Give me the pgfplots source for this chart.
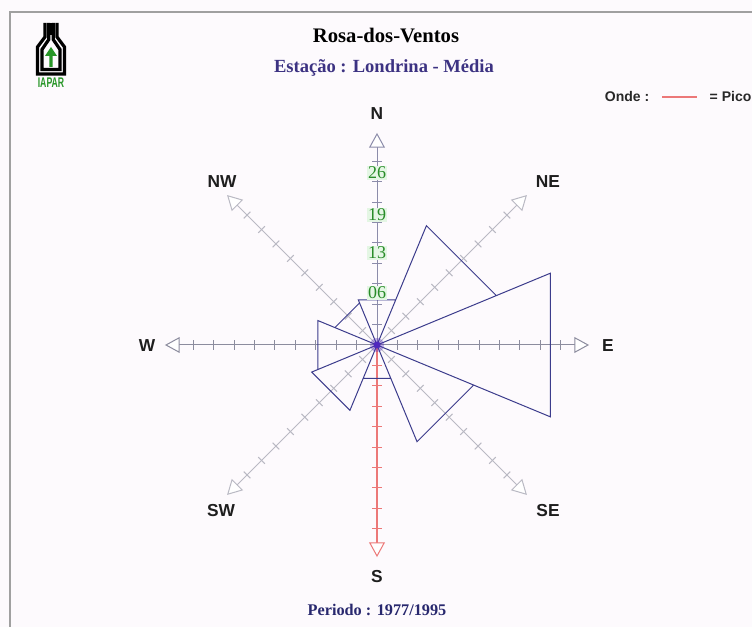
\documentclass[border=0pt]{standalone}
\usepackage{pgfplots}
\pgfplotsset{compat=1.18}
\usepackage{pgfplotstable}
\usepackage{fontspec}
\setmainfont{Liberation Serif}
\setsansfont{Liberation Sans}

\definecolor{bg}{RGB}{253,250,253}
\definecolor{wedge}{RGB}{60,60,140}
\definecolor{diag}{RGB}{185,185,195}
\definecolor{ewc}{RGB}{140,140,158}
\definecolor{nc}{RGB}{140,140,170}
\definecolor{sc}{RGB}{236,120,120}
\definecolor{grn}{RGB}{40,140,40}
\definecolor{grnbg}{RGB}{228,246,228}
\definecolor{navy}{RGB}{40,40,110}
\definecolor{sub}{RGB}{60,50,130}
\definecolor{framec}{RGB}{160,160,160}
\definecolor{dotc}{RGB}{80,40,190}
\definecolor{logog}{RGB}{40,150,40}

% wedge vertices: angle (deg), frequency (%) ; value 0 = centre
\pgfplotstableread{
a r
0 0
67.5 7.2
112.5 7.2
0 0
22.5 19.0
67.5 19.0
0 0
-22.5 27.6
22.5 27.6
0 0
-67.5 15.4
-22.5 15.4
0 0
-112.5 5.3
-67.5 5.3
0 0
-157.5 10.4
-112.5 10.4
0 0
157.5 9.4
202.5 9.4
0 0
112.5 6.7
157.5 6.7
0 0
}\rose

\begin{document}
\begin{tikzpicture}
\fill[bg] (0,0) rectangle (564pt,470.25pt);
\useasboundingbox (0,0) rectangle (564pt,470.25pt);

% direction axes
\begin{scope}[shift={(282.75pt,211.5pt)}, x=4.71pt, y=4.71pt]
\foreach \ang/\col/\lw in {45/diag/0.75pt,135/diag/0.75pt,-45/diag/0.75pt,-135/diag/0.75pt,0/ewc/0.75pt,180/ewc/0.75pt,90/nc/0.75pt,-90/sc/1.2pt}{
  \begin{scope}[rotate=\ang]
    \draw[\col, line width=\lw] (0,0) -- (31.5,0);
    \foreach \k in {1,...,9}{
      \draw[\col, line width=0.8pt] (\k*3.25,-0.75) -- (\k*3.25,0.75);
    }
    \draw[\col, line width=0.75pt, fill=white] (33.6,0) -- (31.5,1.15) -- (31.5,-1.15) -- cycle;
  \end{scope}
}
\end{scope}

\begin{axis}[name=ax, at={(0,0)}, anchor=south west,
  x=4.71pt, y=4.71pt,
  xmin=-60.03, xmax=59.71, ymin=-44.90, ymax=54.94,
  hide axis, clip=false]
\addplot[wedge, line width=0.75pt, no marks] table[
  x expr={\thisrow{r}/cos(22.5)*cos(\thisrow{a})},
  y expr={\thisrow{r}/cos(22.5)*sin(\thisrow{a})}] {\rose};
\end{axis}

% texts and decorations in reference pixel coordinates
\begin{scope}[shift={(0,470.25pt)}, x=0.75pt, y=-0.75pt]
  % frame
  \draw[framec, line width=1.1pt] (10,627) -- (10,12) -- (752,12);
  % centre
  \fill[dotc, opacity=0.35] (377,345) circle (7);
  \fill[dotc] (377,345) circle (3.5);
  % radial labels
  \foreach \yy/\tt in {293/06,253/13,215/19,173/26}{
    \node[text=grn, fill=grnbg, inner sep=0.4pt, font=\fontsize{13.5}{14}\selectfont] at (377,\yy) {\tt};
  }
  % titles
  \node[anchor=base, font=\bfseries\fontsize{15.5}{18}\selectfont] at (386,43) {Rosa-dos-Ventos};
  \node[anchor=base, text=sub, font=\bfseries\fontsize{13.9}{16}\selectfont] at (384,73) {Estação : Londrina - Média};
  \node[anchor=base, text=navy, font=\bfseries\fontsize{12.2}{14}\selectfont] at (377,616) {Periodo : 1977/1995};
  % compass labels
  \begin{scope}[every node/.style={anchor=base, font=\sffamily\bfseries\fontsize{13}{15}\selectfont, text={rgb,255:red,30;green,30;blue,30}}]
    \node at (377,120) {N};
    \node at (548,188) {NE};
    \node at (608,352) {E};
    \node at (548,517) {SE};
    \node at (377,583) {S};
    \node at (221,517) {SW};
    \node at (147,352) {W};
    \node at (222,188) {NW};
  \end{scope}
  % legend
  \node[anchor=base east, font=\sffamily\bfseries\fontsize{10.5}{12}\selectfont, text={rgb,255:red,40;green,40;blue,40}] at (654,102) {Onde :};
  \draw[sc, line width=0.9pt] (662,97) -- (697,97);
  \node[anchor=base west, font=\sffamily\bfseries\fontsize{10.5}{12}\selectfont, text={rgb,255:red,40;green,40;blue,40}] at (705,102) {= Pico};
  % logo
  \begin{scope}[line width=2.4pt, black, line join=miter]
    \draw (45,23) -- (45,37) -- (37.5,47) -- (37.5,74) -- (64.5,74) -- (64.5,47) -- (57,37) -- (57,23);
    \draw (48.8,23) -- (48.8,39.5) -- (42,49.5) -- (42,69.5) -- (60,69.5) -- (60,49.5) -- (53.2,39.5) -- (53.2,23);
    \draw (51,23) -- (51,35);
  \end{scope}
  \fill[logog] (51,47) -- (45,56) -- (49.3,56) -- (49.3,67) -- (52.7,67) -- (52.7,56) -- (57,56) -- cycle;
  \node[text=logog, inner sep=0pt, xscale=0.62, font=\sffamily\bfseries\fontsize{10.5}{11}\selectfont] at (51,83) {IAPAR};
\end{scope}
\end{tikzpicture}
\end{document}
